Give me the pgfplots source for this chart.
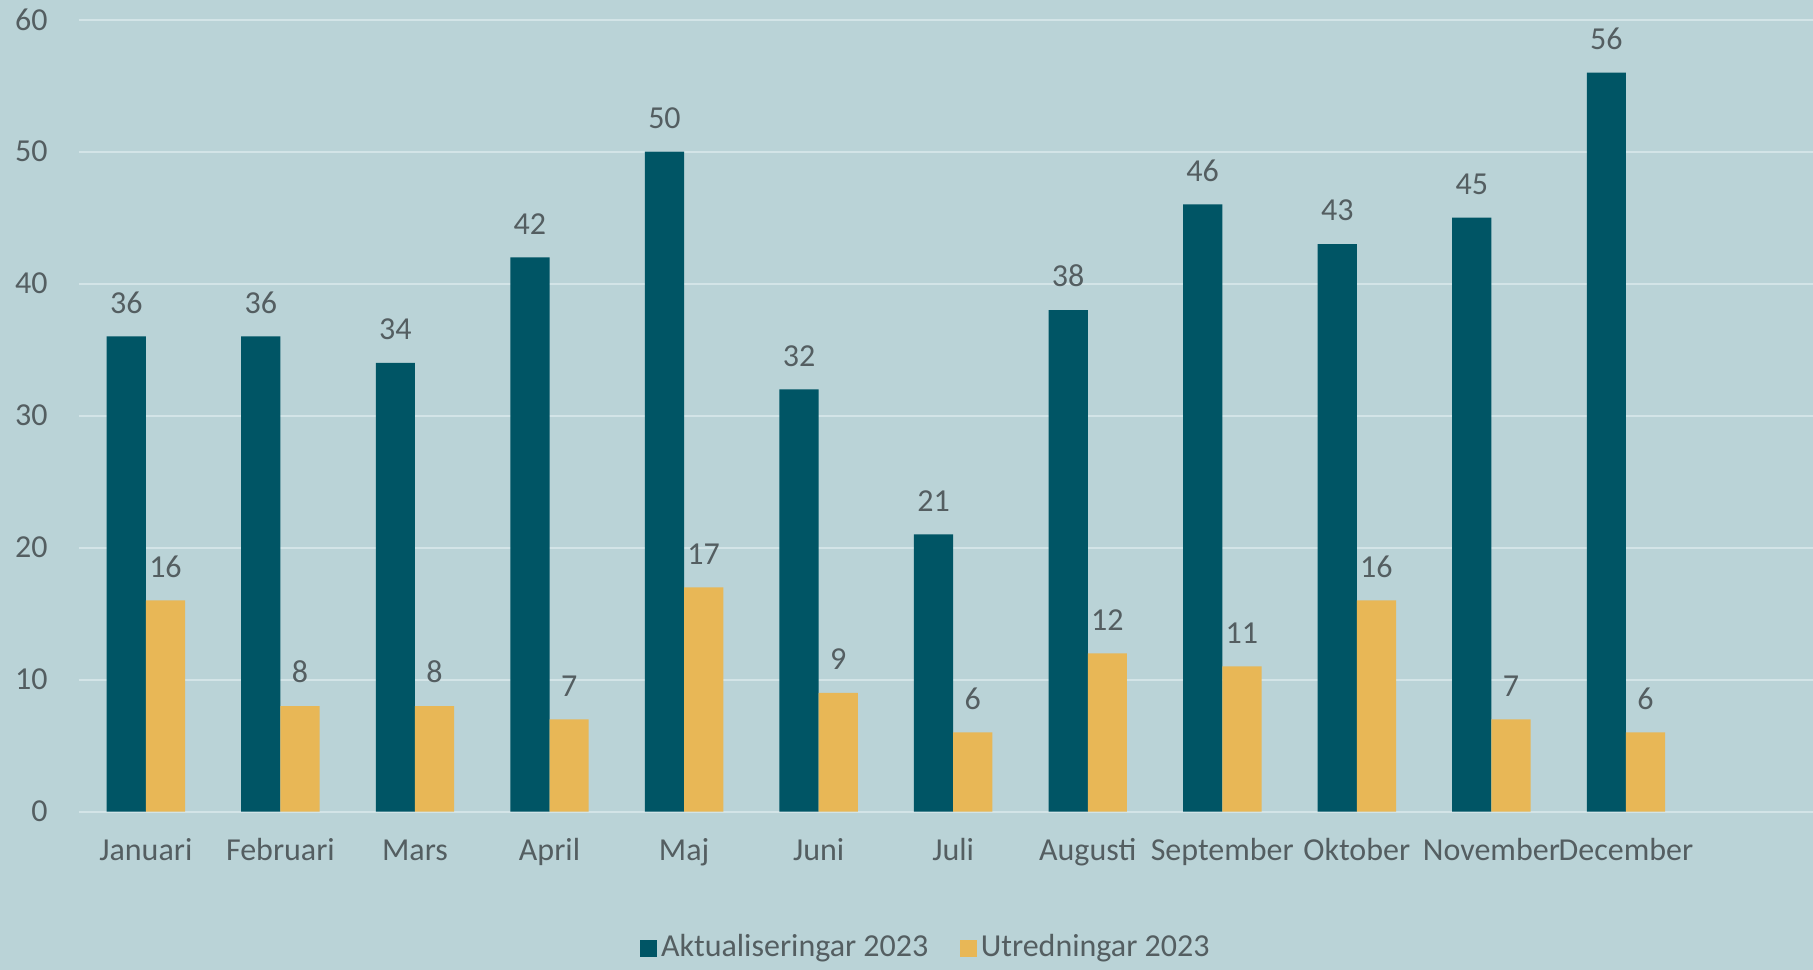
\documentclass[border=0pt]{standalone}
\usepackage{fontspec}
\setmainfont{Carlito}
\usepackage{pgfplots}
\pgfplotsset{compat=1.18}
\definecolor{bg}{RGB}{186,211,215}
\definecolor{gridc}{RGB}{211,228,231}
\definecolor{tealbar}{RGB}{0,85,101}
\definecolor{goldbar}{RGB}{232,183,86}
\definecolor{txt}{RGB}{84,94,97}

\begin{document}
\begin{tikzpicture}
\fill[bg] (-19.65pt,-39.575pt) rectangle (433.6pt,202.925pt);
\begin{axis}[
  at={(0,0)}, anchor=south west,
  scale only axis, width=433.6pt, height=198pt,
  xmin=-0.5, xmax=12.39, ymin=0, ymax=60,
  ytick={0,10,...,60},
  xtick={0,...,11},
  xticklabels={Januari,Februari,Mars,April,Maj,Juni,Juli,Augusti,September,Oktober,November,December},
  ymajorgrids, grid style={gridc, line width=0.5pt},
  axis line style={draw=none}, major tick length=0pt,
  tick label style={font=\fontsize{8}{9.6}\selectfont, text=txt},
  xticklabel style={anchor=base, yshift=-12.3pt},
  yticklabel style={anchor=east, xshift=-4.2pt},
  /pgf/number format/assume math mode=true,
  ybar=0pt, bar width=9.8pt,
  nodes near coords,
  every node near coord/.append style={font=\fontsize{8}{9.6}\selectfont, text=txt, anchor=base, yshift=5.8pt},
  legend style={at={(0.489,-0.1726)}, anchor=center, draw=none, fill=none,
    font=\fontsize{8}{9.6}\selectfont, text=txt, nodes={inner xsep=1pt},
    /tikz/every even column/.append style={column sep=6.8pt}},
  legend columns=2,
  legend image code/.code={\fill[#1] (0pt,-2.15pt) rectangle (4.3pt,2.15pt);},
]
\addplot[fill=tealbar, draw=none] coordinates {
  (0,36) (1,36) (2,34) (3,42) (4,50) (5,32) (6,21) (7,38) (8,46) (9,43) (10,45) (11,56)};
\addlegendentry{Aktualiseringar 2023}
\addplot[fill=goldbar, draw=none] coordinates {
  (0,16) (1,8) (2,8) (3,7) (4,17) (5,9) (6,6) (7,12) (8,11) (9,16) (10,7) (11,6)};
\addlegendentry{Utredningar 2023}
\end{axis}
\pgfresetboundingbox
\useasboundingbox (-19.65pt,-39.575pt) rectangle (433.6pt,202.925pt);
\end{tikzpicture}
\end{document}
